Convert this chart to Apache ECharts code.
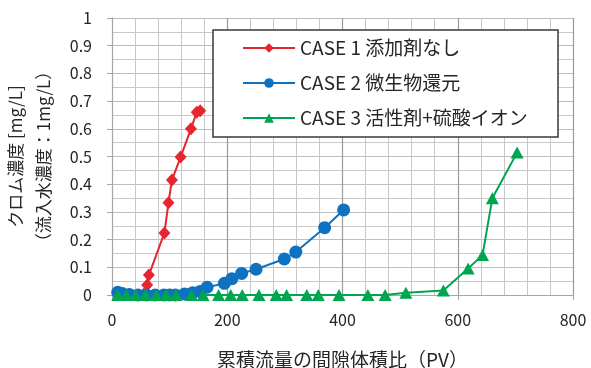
<!DOCTYPE html>
<html lang="ja">
<head>
    <meta charset="UTF-8">
    <title>クロム濃度</title>
    <script src="https://cdn.jsdelivr.net/npm/echarts@6/dist/echarts.min.js"></script>
    <style>
        html, body { margin: 0; padding: 0; background: #fff; }
        #main { width: 591px; height: 368px; }
    </style>
</head>
<body>
<div id="main"></div>
<script>
    // data: [PV, mg/L]
    var case1 = [[10, 0], [20, 0], [32, 0], [45, 0], [55, 0.003], [61, 0.036], [64, 0.072],
        [91, 0.224], [98, 0.333], [104, 0.415], [119, 0.498], [137, 0.6], [147, 0.66], [153, 0.665]];
    var case2 = [[10, 0.01], [18, 0.005], [30, 0.002], [45, 0], [60, 0], [75, 0], [90, 0], [100, 0],
        [110, 0], [126, 0.004], [140, 0.008], [153, 0.013], [165, 0.028], [195, 0.042], [208, 0.059],
        [225, 0.078], [250, 0.093], [299, 0.13], [319, 0.155], [369, 0.243], [402, 0.307]];
    var case3 = [[10, 0], [25, 0], [41, 0], [58, 0], [77, 0], [94, 0], [111, 0], [138, 0], [158, 0],
        [185, 0], [206, 0], [226, 0], [255, 0], [285, 0], [303, 0], [338, 0], [358, 0], [394, 0],
        [444, 0], [474, 0], [510, 0.008], [575, 0.016], [618, 0.096], [643, 0.144], [660, 0.349], [703, 0.514]];
    var seriesNames = ['CASE 1 添加剤なし', 'CASE 2 微生物還元', 'CASE 3 活性剤+硫酸イオン'];
    var xTicks = [0, 200, 400, 600, 800];
    var yTicks = [0, 0.1, 0.2, 0.3, 0.4, 0.5, 0.6, 0.7, 0.8, 0.9, 1];

    var font = 'Noto Sans CJK JP';
    var myChart = echarts.init(document.getElementById('main'));

    var option = {
        backgroundColor: '#fff',
        textStyle: { fontFamily: font },
        animation: false,
        grid: { left: 112, right: 18, top: 18, bottom: 73, outerBoundsMode: 'none', containLabel: false },
        legend: {
            orient: 'vertical',
            left: 242,
            top: 38,
            padding: 0,
            itemWidth: 52,
            itemHeight: 12,
            itemGap: 15,
            z: 5,
            textStyle: { fontSize: 19, lineHeight: 20, color: '#262626', fontFamily: font },
            data: seriesNames
        },
        graphic: [{
            type: 'rect',
            z: 4,
            shape: { x: 213, y: 30, width: 345, height: 107 },
            style: { fill: '#fff', stroke: '#3a3a3a', lineWidth: 1.5 }
        }],
        xAxis: {
            type: 'value',
            min: xTicks[0],
            max: xTicks[xTicks.length - 1],
            interval: 200,
            name: '累積流量の間隙体積比（PV）',
            nameLocation: 'middle',
            nameGap: 55,
            nameTextStyle: { fontSize: 19, color: '#262626', fontFamily: font },
            axisLine: { lineStyle: { color: '#a6a6a6', width: 1 } },
            axisTick: { show: true, length: 5, lineStyle: { color: '#a6a6a6' } },
            axisLabel: { fontSize: 16, color: '#262626', margin: 17 },
            splitLine: { show: true, lineStyle: { color: '#9a9a9a', width: 1.2 } },
            minorTick: { show: false, splitNumber: 5 },
            minorSplitLine: { show: true, lineStyle: { color: '#c8c8c8', width: 1 } }
        },
        yAxis: {
            type: 'value',
            min: yTicks[0],
            max: yTicks[yTicks.length - 1],
            interval: 0.1,
            name: 'クロム濃度 [mg/L]\n（流入水濃度：1mg/L）',
            nameLocation: 'middle',
            nameRotate: 90,
            nameGap: 54,
            nameTextStyle: { fontSize: 17, lineHeight: 28, color: '#262626', fontFamily: font },
            axisLine: { show: true, lineStyle: { color: '#a6a6a6', width: 1 } },
            axisTick: { show: true, length: 5, lineStyle: { color: '#a6a6a6' } },
            axisLabel: { fontSize: 16, color: '#262626', margin: 20 },
            splitLine: { show: true, lineStyle: { color: '#bdbdbd', width: 1 } },
            minorTick: { show: false, splitNumber: 2 },
            minorSplitLine: { show: true, lineStyle: { color: '#c8c8c8', width: 1 } }
        },
        series: [
            {
                name: seriesNames[0],
                type: 'line',
                data: case1,
                symbol: 'diamond',
                symbolSize: [12, 13],
                itemStyle: { color: '#e6262e' },
                lineStyle: { color: '#e6262e', width: 2 },
                z: 3
            },
            {
                name: seriesNames[1],
                type: 'line',
                data: case2,
                symbol: 'circle',
                symbolSize: 13,
                itemStyle: { color: '#0d72c2' },
                lineStyle: { color: '#0d72c2', width: 2 },
                z: 3
            },
            {
                name: seriesNames[2],
                type: 'line',
                data: case3,
                symbol: 'triangle',
                symbolSize: [13, 12],
                itemStyle: { color: '#00a550' },
                lineStyle: { color: '#00a550', width: 2 },
                z: 3
            }
        ]
    };

    myChart.setOption(option);
</script>
</body>
</html>
